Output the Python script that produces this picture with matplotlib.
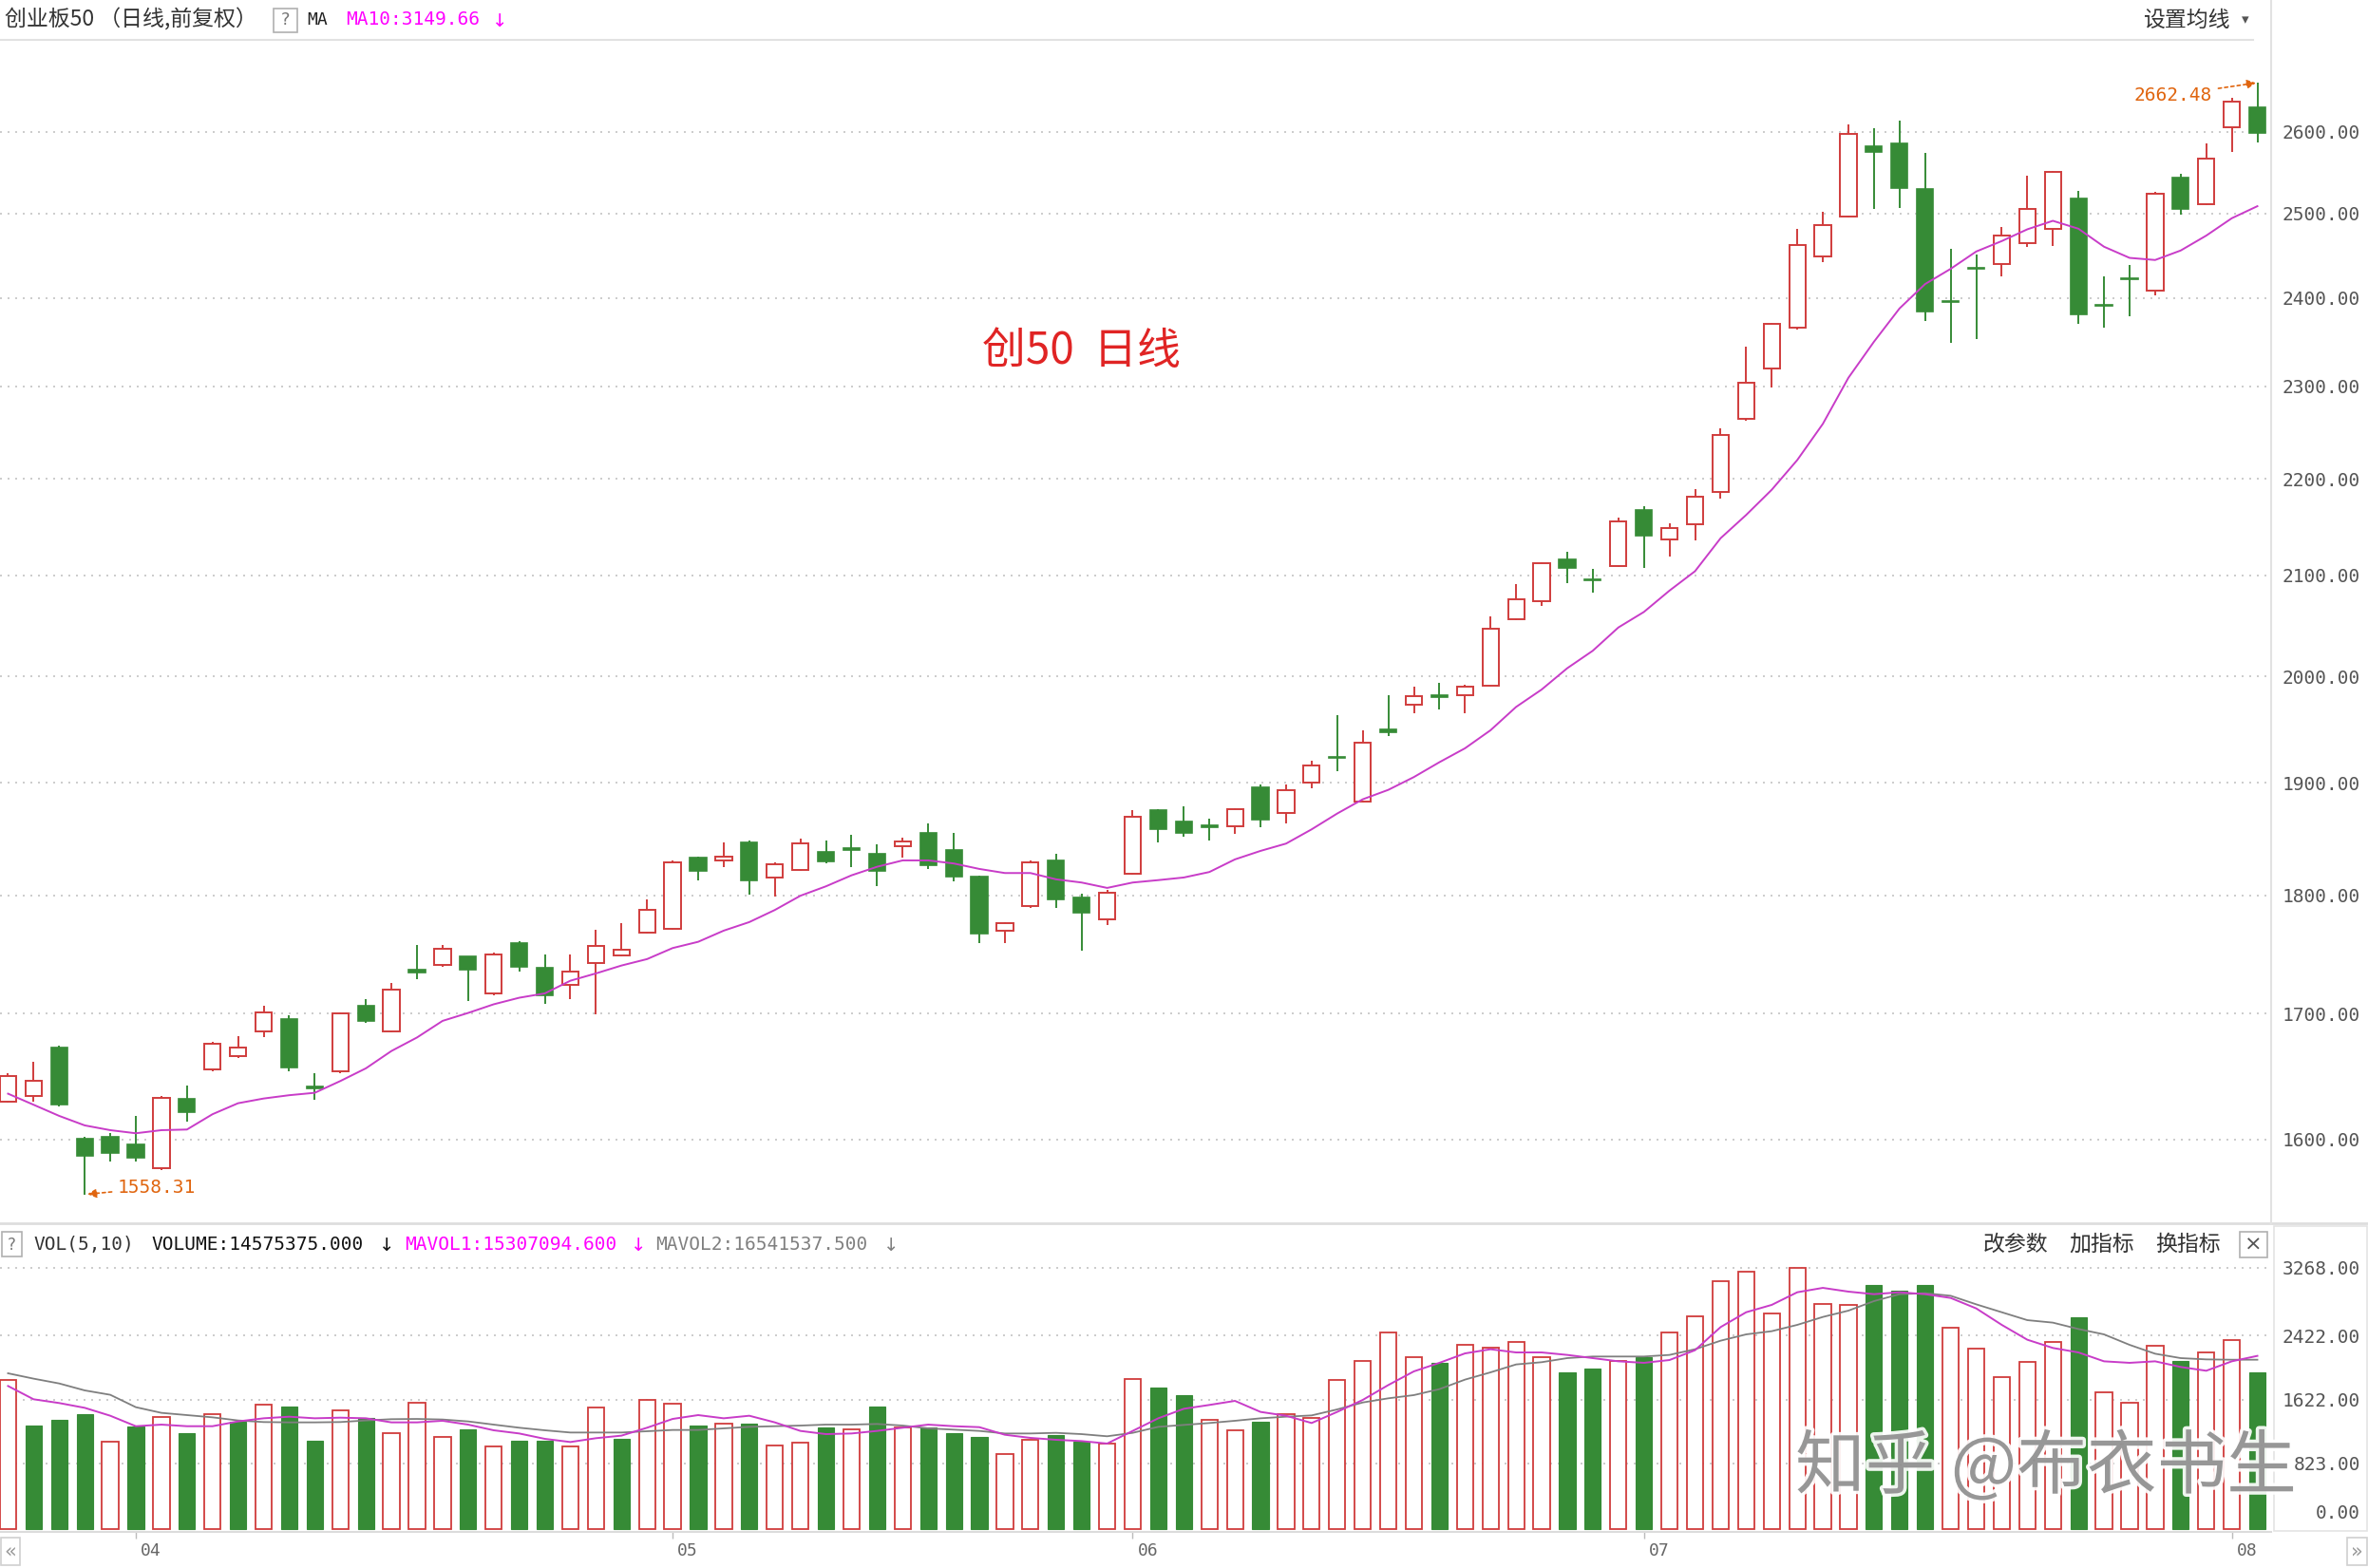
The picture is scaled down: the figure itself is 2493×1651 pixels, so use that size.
import numpy as np
import matplotlib
matplotlib.use("Agg")
import matplotlib.pyplot as plt
from matplotlib.patches import Rectangle
from matplotlib.lines import Line2D
import matplotlib.patheffects as pe
from matplotlib.ticker import NullLocator

# ---------------- data ----------------
opens = [1629.6, 1634.0, 1672.9, 1600.7, 1602.4, 1596.3, 1578.2, 1631.6, 1655.1, 1665.5,
         1685.9, 1695.5, 1641.5, 1653.3, 1706.3, 1685.7, 1736.6, 1740.6, 1747.6, 1716.8,
         1758.8, 1737.8, 1723.5, 1742.2, 1748.6, 1767.6, 1770.8, 1832.7, 1830.4, 1846.1,
         1815.4, 1822.1, 1837.7, 1841.3, 1836.1, 1843.2, 1854.6, 1839.7, 1816.0, 1769.5,
         1790.4, 1830.6, 1797.6, 1779.5, 1818.8, 1875.2, 1864.9, 1861.2, 1860.8, 1895.8,
         1872.9, 1900.4, 1924.0, 1883.1, 1950.1, 1972.8, 1981.8, 1981.9, 1991.3, 2056.2,
         2074.0, 2115.8, 2096.1, 2109.1, 2167.1, 2136.9, 2152.6, 2186.2, 2264.0, 2320.0,
         2365.6, 2448.8, 2496.2, 2582.5, 2586.0, 2529.5, 2396.7, 2435.4, 2439.5, 2464.5,
         2480.9, 2518.1, 2392.4, 2423.6, 2408.8, 2543.1, 2510.7, 2606.3, 2631.1]
highs = [1652.1, 1661.4, 1674.2, 1602.0, 1605.4, 1618.4, 1634.0, 1642.3, 1677.1, 1681.9,
         1706.3, 1698.6, 1652.1, 1701.0, 1712.0, 1725.5, 1757.4, 1757.4, 1748.0, 1750.8,
         1760.6, 1749.4, 1749.4, 1770.1, 1776.2, 1796.1, 1830.0, 1833.5, 1846.1, 1848.1,
         1829.0, 1849.5, 1848.1, 1852.9, 1844.4, 1850.9, 1863.1, 1854.6, 1817.0, 1777.0,
         1830.6, 1836.3, 1800.9, 1804.8, 1875.2, 1876.0, 1878.6, 1868.0, 1877.0, 1898.9,
         1898.9, 1920.5, 1962.9, 1948.7, 1982.4, 1990.1, 1993.8, 1992.4, 2058.5, 2091.1,
         2113.0, 2123.7, 2106.0, 2158.9, 2171.0, 2153.0, 2189.1, 2253.9, 2344.9, 2372.0,
         2481.0, 2502.0, 2609.8, 2605.1, 2613.8, 2574.2, 2457.2, 2450.7, 2483.7, 2546.2,
         2552.0, 2527.7, 2425.5, 2438.4, 2526.0, 2548.2, 2586.0, 2643.2, 2662.48]
lows = [1629.0, 1629.6, 1625.8, 1558.31, 1583.5, 1583.5, 1577.0, 1614.2, 1653.3, 1663.9,
        1681.0, 1653.3, 1630.9, 1652.1, 1692.6, 1685.0, 1728.9, 1738.6, 1710.3, 1715.0,
        1735.3, 1708.4, 1711.7, 1699.4, 1748.0, 1767.0, 1770.0, 1813.1, 1824.8, 1800.1,
        1798.8, 1821.0, 1828.0, 1824.8, 1808.2, 1833.0, 1823.0, 1811.8, 1759.2, 1759.2,
        1788.7, 1788.7, 1752.8, 1774.1, 1818.0, 1846.7, 1851.8, 1848.1, 1853.8, 1860.2,
        1863.7, 1895.2, 1910.6, 1882.0, 1943.6, 1965.2, 1968.8, 1965.3, 1990.5, 2055.5,
        2068.9, 2092.3, 2082.6, 2108.5, 2107.1, 2119.0, 2136.0, 2179.0, 2262.0, 2299.3,
        2364.0, 2442.0, 2495.0, 2504.9, 2506.9, 2373.5, 2349.3, 2353.6, 2425.8, 2460.0,
        2461.4, 2370.9, 2366.3, 2379.6, 2403.6, 2498.9, 2510.0, 2575.4, 2587.2]
closes = [1649.6, 1646.3, 1627.1, 1587.8, 1589.6, 1586.4, 1632.8, 1621.6, 1675.5, 1672.4,
          1701.4, 1656.4, 1640.0, 1700.0, 1694.5, 1720.2, 1733.9, 1753.9, 1736.8, 1749.4,
          1738.6, 1715.0, 1734.7, 1756.8, 1753.4, 1787.6, 1829.0, 1821.5, 1834.0, 1813.1,
          1827.1, 1845.8, 1829.8, 1840.0, 1821.5, 1847.5, 1826.5, 1816.5, 1767.3, 1776.2,
          1829.0, 1796.6, 1785.2, 1802.1, 1869.4, 1858.6, 1855.2, 1860.0, 1876.5, 1867.1,
          1893.7, 1916.4, 1922.9, 1937.6, 1947.4, 1981.0, 1979.8, 1990.1, 2047.0, 2075.5,
          2111.8, 2107.1, 2095.0, 2154.9, 2140.5, 2148.5, 2180.9, 2247.1, 2303.6, 2370.0,
          2462.5, 2485.6, 2597.1, 2575.4, 2530.6, 2384.4, 2395.3, 2434.0, 2473.9, 2505.7,
          2550.0, 2381.8, 2391.0, 2422.0, 2524.2, 2505.7, 2566.5, 2637.8, 2599.1]
ma10 = [1635.8, 1627.1, 1618.4, 1611.0, 1607.3, 1604.9, 1607.3, 1607.8, 1619.7, 1628.3,
        1632.0, 1634.6, 1636.5, 1645.8, 1655.9, 1669.8, 1680.7, 1694.2, 1700.7, 1707.8,
        1713.2, 1716.8, 1727.3, 1733.4, 1740.0, 1745.4, 1754.7, 1760.0, 1769.5, 1776.8,
        1787.2, 1799.5, 1807.7, 1817.3, 1824.8, 1830.4, 1830.4, 1827.7, 1822.9, 1819.3,
        1819.3, 1813.8, 1811.0, 1806.3, 1811.0, 1813.1, 1815.4, 1820.2, 1831.3, 1838.8,
        1845.3, 1858.0, 1872.2, 1885.1, 1893.7, 1905.4, 1919.1, 1932.0, 1948.9, 1970.9,
        1987.5, 2008.0, 2025.0, 2047.8, 2063.2, 2084.5, 2104.1, 2137.8, 2161.9, 2188.3,
        2219.9, 2258.9, 2309.6, 2350.1, 2388.1, 2416.3, 2434.1, 2454.5, 2466.9, 2480.9,
        2491.1, 2481.6, 2460.2, 2447.0, 2444.5, 2455.7, 2473.4, 2494.2, 2508.7]
volumes = [1862, 1295, 1367, 1438, 1097, 1287, 1406, 1200, 1434, 1347,
           1553, 1533, 1101, 1481, 1386, 1196, 1577, 1149, 1248, 1030,
           1101, 1101, 1030, 1525, 1129, 1620, 1573, 1295, 1315, 1319,
           1050, 1077, 1275, 1244, 1533, 1275, 1275, 1200, 1157, 935,
           1117, 1176, 1089, 1070, 1882, 1771, 1676, 1367, 1240, 1347,
           1434, 1386, 1862, 2099, 2456, 2147, 2080, 2309, 2266, 2337,
           2147, 1961, 2008, 2099, 2147, 2456, 2666, 3098, 3216, 2694,
           3268, 2812, 2801, 3050, 2980, 3050, 2525, 2262, 1905, 2095,
           2337, 2646, 1715, 1575, 2288, 2099, 2214, 2361, 1961]
mavol1 = [1790, 1624, 1577, 1517, 1418, 1287, 1307, 1287, 1287, 1347,
          1386, 1406, 1386, 1394, 1386, 1335, 1335, 1355, 1307, 1236,
          1196, 1129, 1089, 1137, 1169, 1268, 1378, 1426, 1386, 1418,
          1335, 1228, 1188, 1196, 1228, 1268, 1307, 1287, 1275, 1180,
          1141, 1117, 1101, 1070, 1228, 1386, 1505, 1553, 1604, 1466,
          1418, 1327, 1466, 1616, 1802, 1973, 2080, 2198, 2250, 2210,
          2210, 2179, 2139, 2099, 2080, 2115, 2238, 2527, 2713, 2805,
          2963, 3018, 2971, 2939, 2963, 2939, 2892, 2761, 2555, 2369,
          2266, 2210, 2099, 2080, 2099, 2028, 1981, 2099, 2167]
mavol2 = [1949, 1882, 1822, 1735, 1680, 1525, 1454, 1426, 1398, 1359,
          1339, 1335, 1335, 1339, 1359, 1375, 1378, 1371, 1347, 1307,
          1268, 1236, 1208, 1208, 1208, 1224, 1240, 1240, 1260, 1279,
          1287, 1295, 1307, 1307, 1315, 1295, 1260, 1244, 1228, 1196,
          1196, 1204, 1188, 1161, 1204, 1279, 1303, 1327, 1355, 1386,
          1406, 1422, 1497, 1584, 1636, 1676, 1751, 1870, 1961, 2060,
          2088, 2139, 2159, 2159, 2159, 2179, 2250, 2357, 2436, 2476,
          2555, 2654, 2733, 2852, 2939, 2951, 2919, 2812, 2713, 2614,
          2583, 2503, 2436, 2305, 2194, 2139, 2123, 2119, 2119]
price_ticks = [1600, 1700, 1800, 1900, 2000, 2100, 2200, 2300, 2400, 2500, 2600]
vol_ticks = [823, 1622, 2422, 3268]
month_labels = ["04", "05", "06", "07", "08"]
month_index = [5, 26, 44, 64, 87]
low_point = (3, 1558.31)
high_point = (88, 2662.48)

# ---------------- styling ----------------
W, H = 2493, 1651
RED = "#d03c3c"
GREEN = "#368b36"
MAG = "#c83cc8"
ORANGE = "#e0650f"
GRID = "#c4c4c4"
CJK = ["Noto Sans CJK SC", "DejaVu Sans"]
MONO = ["DejaVu Sans Mono", "Noto Sans CJK SC"]

plt.rcParams["font.family"] = ["DejaVu Sans", "Noto Sans CJK SC"]

fig = plt.figure(figsize=(W / 100, H / 100), dpi=100, facecolor="white")


def fx(px):
    return px / W


def fy(py):
    return 1 - py / H


n = len(closes)
x = np.arange(n)
o = np.array(opens); h = np.array(highs); l = np.array(lows); c = np.array(closes)
up = c >= o
BW = 0.64
spacing = 26.91
x0 = -8.45 / spacing
x1 = (2391 - 8.45) / spacing

# ---------------- main price axes ----------------
ax = fig.add_axes([0, fy(1288), fx(2391), fy(42) - fy(1288)])
ax.set_yscale("log")
ax.set_ylim(1536.8, 2718)
ax.set_xlim(x0, x1)
for p in price_ticks:
    ax.axhline(p, color=GRID, lw=1.2, ls=(0, (1.2, 3.6)), zorder=0)

top = np.maximum(o, c)
bot = np.minimum(o, c)
# up candles: hollow red
ax.vlines(x[up], top[up], h[up], color=RED, lw=1.4, zorder=2)
ax.vlines(x[up], l[up], bot[up], color=RED, lw=1.4, zorder=2)
ax.bar(x[up], (top - bot)[up], bottom=bot[up], width=BW, facecolor="white",
       edgecolor=RED, linewidth=1.4, zorder=3)
# down candles: filled green
dn = ~up
ax.vlines(x[dn], l[dn], h[dn], color=GREEN, lw=1.4, zorder=2)
ax.bar(x[dn], (top - bot)[dn], bottom=bot[dn], width=BW, facecolor=GREEN,
       edgecolor=GREEN, linewidth=1.2, zorder=3)

ax.plot(x, ma10, color=MAG, lw=1.4, zorder=4)

ax.set_yticks(price_ticks)
ax.set_yticklabels(["%.2f" % p for p in price_ticks])
ax.yaxis.set_minor_locator(NullLocator())
ax.yaxis.tick_right()
ax.tick_params(axis="y", length=0, pad=67.5, labelsize=14, labelcolor="#555555")
for t in ax.get_yticklabels():
    t.set_horizontalalignment("right")
    t.set_family(MONO)
ax.set_xticks([])
for s in ax.spines.values():
    s.set_visible(False)

ax.text(0.476, 0.737, "创50  日线", transform=ax.transAxes, color="#e02424",
        fontsize=33, family=CJK, ha="center", va="center")

ax.annotate("%.2f" % high_point[1], xy=high_point, xytext=(-48, -13),
            textcoords="offset pixels", ha="right", va="center", color=ORANGE,
            fontsize=14, family=MONO,
            arrowprops=dict(arrowstyle="-|>", color=ORANGE, lw=1.2, ls=(0, (2, 2)),
                            shrinkA=3, shrinkB=1, mutation_scale=14))
ax.annotate("%.2f" % low_point[1], xy=low_point, xytext=(34, 7),
            textcoords="offset pixels", ha="left", va="center", color=ORANGE,
            fontsize=14, family=MONO,
            arrowprops=dict(arrowstyle="-|>", color=ORANGE, lw=1.2, ls=(0, (2, 2)),
                            shrinkA=2, shrinkB=2, mutation_scale=14))

# ---------------- volume axes ----------------
ax2 = fig.add_axes([0, fy(1613), fx(2391), fy(1300) - fy(1613)])
ax2.set_xlim(x0, x1)
ax2.set_ylim(-35.65, 3683.9)
for v in vol_ticks:
    ax2.axhline(v, color=GRID, lw=1.2, ls=(0, (1.2, 3.6)), zorder=0)
vol = np.array(volumes)
vup = np.concatenate([[True], c[1:] >= c[:-1]])
ax2.bar(x[vup], vol[vup], width=BW, facecolor="white", edgecolor=RED,
        linewidth=1.3, zorder=2)
ax2.bar(x[~vup], vol[~vup], width=BW, facecolor=GREEN, edgecolor=GREEN,
        linewidth=0.8, zorder=2)
ax2.plot(x, mavol2, color="#7f7f7f", lw=1.3, zorder=4)
ax2.plot(x, mavol1, color=MAG, lw=1.4, zorder=5)

ax2.set_yticks(vol_ticks)
ax2.set_yticklabels(["%.2f" % v for v in vol_ticks])
ax2.yaxis.tick_right()
ax2.tick_params(axis="y", length=0, pad=67.5, labelsize=14, labelcolor="#555555")
for t in ax2.get_yticklabels():
    t.set_horizontalalignment("right")
    t.set_family(MONO)
ax2.annotate("0.00", xy=(1, 0), xycoords=("axes fraction", "data"), xytext=(94, 17),
             textcoords="offset pixels", ha="right", va="center", fontsize=14,
             color="#555555", family=MONO, annotation_clip=False)

ax2.set_xticks(month_index)
ax2.set_xticklabels([])
ax2.tick_params(axis="x", length=5, width=1, color="#bbbbbb")
for lab, idx in zip(month_labels, month_index):
    ax2.annotate(lab, xy=(idx, 0), xycoords=("data", "axes fraction"), xytext=(5, -20),
                 textcoords="offset pixels", ha="left", va="center", fontsize=13,
                 color="#666666", family=MONO, annotation_clip=False)
for k, s in ax2.spines.items():
    s.set_visible(k == "bottom")
ax2.spines["bottom"].set_color("#dcdcdc")
ax2.spines["bottom"].set_linewidth(1.5)

# ---------------- frame lines ----------------
def hline(y, xa, xb, color="#e2e2e2", lw=1.5):
    fig.add_artist(Line2D([fx(xa), fx(xb)], [fy(y), fy(y)], color=color, lw=lw,
                          transform=fig.transFigure))


def vline(xp, ya, yb, color="#e2e2e2", lw=1.5):
    fig.add_artist(Line2D([fx(xp), fx(xp)], [fy(ya), fy(yb)], color=color, lw=lw,
                          transform=fig.transFigure))


def box(xa, ya, xb, yb, color="#b0b0b0", lw=1.2):
    fig.add_artist(Rectangle((fx(xa), fy(yb)), fx(xb) - fx(xa), fy(ya) - fy(yb),
                             transform=fig.transFigure, fill=False, edgecolor=color,
                             lw=lw))


hline(42, 0, 2372)
hline(1288, 0, W, color="#dedede", lw=2)
vline(2391, 0, 1288)
box(2394, 1291, 2492, 1612, color="#e4e4e4", lw=1.2)

# ---------------- header texts ----------------
fig.text(fx(5), fy(21), "创业板50 （日线,前复权）", fontsize=16.5, family=CJK,
         color="#333333", va="center", ha="left")
box(288, 9, 313, 34)
fig.text(fx(300.5), fy(21.5), "?", fontsize=13, color="#777777", ha="center",
         va="center")
fig.text(fx(323), fy(21), "MA", fontsize=13, family=MONO, color="#222222",
         va="center")
fig.text(fx(364), fy(21), "MA10:3149.66", fontsize=14, family=MONO, color="#ff00ff",
         va="center")
fig.text(fx(526), fy(22), "↓", fontsize=14, color="#ff00ff", va="center", ha="center")
fig.text(fx(2256), fy(21), "设置均线", fontsize=16.5, family=CJK, color="#333333",
         va="center")
fig.text(fx(2364), fy(21), "▾", fontsize=11, color="#555555", va="center",
         ha="center")

# volume header
box(2, 1297, 23, 1323)
fig.text(fx(12.5), fy(1310.5), "?", fontsize=12, color="#777777", ha="center",
         va="center")
fig.text(fx(35), fy(1310), "VOL(5,10)", fontsize=14, family=MONO, color="#333333",
         va="center")
fig.text(fx(159), fy(1310), "VOLUME:14575375.000", fontsize=14, family=MONO,
         color="#111111", va="center")
fig.text(fx(407), fy(1311), "↓", fontsize=14, color="#111111", va="center",
         ha="center")
fig.text(fx(426), fy(1310), "MAVOL1:15307094.600", fontsize=14, family=MONO,
         color="#ff00ff", va="center")
fig.text(fx(672), fy(1311), "↓", fontsize=14, color="#ff00ff", va="center",
         ha="center")
fig.text(fx(690), fy(1310), "MAVOL2:16541537.500", fontsize=14, family=MONO,
         color="#808080", va="center")
fig.text(fx(938), fy(1311), "↓", fontsize=14, color="#808080", va="center",
         ha="center")
fig.text(fx(2088), fy(1310), "改参数", fontsize=16.5, family=CJK, color="#333333",
         va="center")
fig.text(fx(2178), fy(1310), "加指标", fontsize=16.5, family=CJK, color="#333333",
         va="center")
fig.text(fx(2269), fy(1310), "换指标", fontsize=16.5, family=CJK, color="#333333",
         va="center")
box(2358, 1297, 2387, 1324)
fig.text(fx(2372.5), fy(1310.5), "×", fontsize=16, color="#555555", ha="center",
         va="center")

# scroll buttons
box(1, 1619, 21, 1648, color="#d0d0d0")
fig.text(fx(11), fy(1633), "«", fontsize=15, color="#999999", ha="center",
         va="center")
box(2471, 1619, 2492, 1648, color="#d0d0d0")
fig.text(fx(2481.5), fy(1633), "»", fontsize=15, color="#999999", ha="center",
         va="center")

# watermark
fig.text(fx(1890), fy(1546), "知乎 @布衣书生", fontsize=53, family=CJK,
         color="#8f8f8f", alpha=0.92, va="center", ha="left",
         path_effects=[pe.withStroke(linewidth=5, foreground="white")])

fig.savefig("out.png", dpi=100, facecolor="white")
